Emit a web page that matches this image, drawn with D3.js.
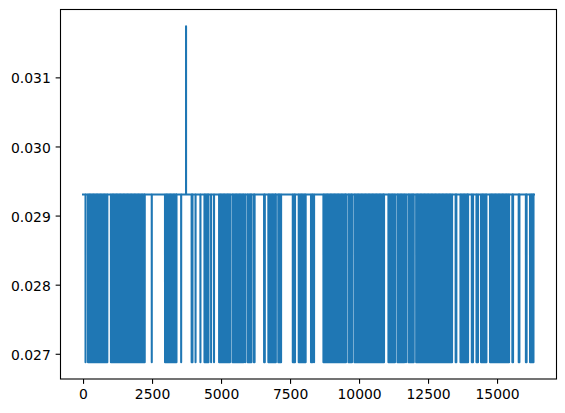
<!DOCTYPE html>
<html><head><meta charset="utf-8">
<script src="https://cdn.jsdelivr.net/npm/d3@7"></script>
<style>
body{margin:0;background:#fff}
svg{display:block}
text{font-family:"DejaVu Sans",sans-serif;font-size:13.9px;fill:#000}
</style>
</head><body>
<svg id="c" width="565" height="413"></svg>
<script>
// ---- data ----
const xStart = 0;
const xEnd = 16337;
const highValue = 0.029304;
const lowValue = 0.026878;
const spikeX = 3732;
const spikeValue = 0.031739;

// x positions where the series drops to lowValue
const dips0 = [90, 180, 230, 280, 330, 380, 430, 480, 530, 580, 630, 680, 730, 780, 830, 880,
  1010, 1060, 1110, 1160, 1210, 1260, 1310, 1360, 1410, 1460, 1510, 1560, 1610, 1660, 1710, 1760,
  1810, 1860, 1910, 1960, 2010, 2060, 2110, 2160, 2210, 2235, 2490];
const dips1 = [2970, 3020, 3070, 3120, 3170, 3220, 3270, 3320, 3370, 3385, 3555,
  3935, 3965, 4076, 4253, 4400, 4450, 4500, 4545, 4640, 4746];
const dips2 = [4930, 4980, 5030, 5080, 5130, 5180, 5230, 5280, 5325, 5415, 5465, 5515, 5565, 5615,
  5665, 5715, 5765, 5815, 5875, 5965, 6015, 6065, 6100, 6190, 6215, 6560, 6585];
const dips3 = [6715, 6765, 6815, 6865, 6915, 6965, 6985, 7075, 7125, 7175, 7600, 7650, 7680,
  7815, 7865, 7915, 7965, 8015, 8065, 8260, 8310, 8370];
const dips4 = [8710, 8760, 8810, 8860, 8910, 8960, 9010, 9060, 9110, 9160, 9210, 9260, 9310, 9360,
  9410, 9460, 9510, 9527, 9617, 9667, 9717, 9745, 9835, 9885, 9935, 9985, 10035, 10085, 10135,
  10185, 10235, 10285, 10335, 10385, 10435, 10485, 10535, 10585, 10635, 10685, 10735, 10785,
  10835, 10885, 10905];
const dips5 = [11065, 11115, 11165, 11215, 11265, 11303, 11393, 11443, 11493, 11543, 11593, 11643,
  11701, 11791, 11841, 11891, 11941, 11980, 12070, 12120, 12170, 12220, 12270, 12320, 12370,
  12420, 12470, 12520, 12570, 12620, 12670, 12720, 12770, 12820, 12870, 12920, 12970, 13020,
  13070, 13120, 13170, 13220, 13270, 13320, 13370];
const dips6 = [13500, 13525, 13675, 13725, 13775, 13825, 13875, 13925, 13950, 14085, 14130,
  14255, 14310, 14420, 14470, 14520, 14570, 14615, 14745, 14795, 14845, 14895, 14945, 14995,
  15045, 15095, 15145, 15195, 15245, 15295, 15345, 15395, 15435, 15555, 15580, 15785, 15810,
  16045, 16070, 16195, 16245, 16295, 16320];

const xTicks = [0, 2500, 5000, 7500, 10000, 12500, 15000];
const yTicks = [0.027, 0.028, 0.029, 0.030, 0.031];

// ---- build series ----
const dips = [].concat(dips0, dips1, dips2, dips3, dips4, dips5, dips6);
const events = dips.map(d => ({x: d, v: lowValue}));
events.push({x: spikeX, v: spikeValue});
events.sort((a, b) => a.x - b.x);
const series = [[xStart, highValue]];
events.forEach(e => {
  series.push([e.x - 1, highValue]);
  series.push([e.x, e.v]);
  series.push([e.x + 1, highValue]);
});
series.push([xEnd, highValue]);

// ---- layout ----
const L = 60.5, R = 556.5, T = 9.5, B = 379;
const xExt = d3.extent(series, d => d[0]);
const yExt = d3.extent(series, d => d[1]);
const xPad = (xExt[1] - xExt[0]) * 0.05, yPad = (yExt[1] - yExt[0]) * 0.05;
const x = d3.scaleLinear().domain([xExt[0] - xPad, xExt[1] + xPad]).range([L, R]);
const y = d3.scaleLinear().domain([yExt[0] - yPad, yExt[1] + yPad]).range([B, T]);

const svg = d3.select("#c");
svg.append("rect").attr("width", 565).attr("height", 413).attr("fill", "#fff");

svg.append("clipPath").attr("id", "clip").append("rect")
  .attr("x", L).attr("y", T).attr("width", R - L).attr("height", B - T);

const line = d3.line().x(d => x(d[0])).y(d => y(d[1]));
svg.append("path").datum(series)
  .attr("clip-path", "url(#clip)")
  .attr("d", line)
  .attr("fill", "none")
  .attr("stroke", "#1f77b4")
  .attr("stroke-width", 2.08)
  .attr("stroke-linejoin", "round")
  .attr("stroke-linecap", "square");

// axes
const tickLen = 4.86, pad = 4.86;
const gx = svg.append("g").attr("transform", `translate(0,${B})`)
  .call(d3.axisBottom(x).tickValues(xTicks).tickFormat(d3.format("d"))
    .tickSize(tickLen).tickPadding(pad));
const gy = svg.append("g").attr("transform", `translate(${L},0)`)
  .call(d3.axisLeft(y).tickValues(yTicks).tickFormat(d3.format(".3f"))
    .tickSize(tickLen).tickPadding(pad));
[gx, gy].forEach(g => {
  g.select(".domain").remove();
  g.selectAll(".tick line").attr("stroke", "#000").attr("stroke-width", 1.1);
  g.selectAll(".tick text").attr("font-family", "DejaVu Sans").attr("font-size", "13.9px").attr("fill", "#000");
});
gx.selectAll(".tick text").attr("dy", "0.76em");
gy.selectAll(".tick text").attr("dy", "0.4em");

// spines
svg.append("rect").attr("x", L).attr("y", T).attr("width", R - L).attr("height", B - T)
  .attr("fill", "none").attr("stroke", "#000").attr("stroke-width", 1.1);
</script>
</body></html>
